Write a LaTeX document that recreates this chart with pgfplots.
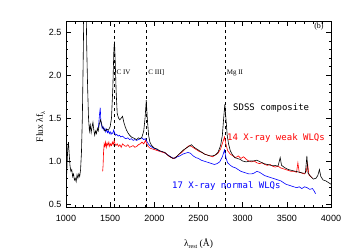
\documentclass[border=0pt]{standalone}
\usepackage{fontspec}
\setmainfont{Liberation Sans}
\newfontfamily\serifA{Liberation Serif}
\newfontfamily\monoA{DejaVu Sans Mono}
\usepackage{pgfplots}
\pgfplotsset{compat=1.18}
\begin{document}
\begin{tikzpicture}
\useasboundingbox (-66pt,-43pt) rectangle (284pt,207pt);
\begin{axis}[
  at={(0pt,0pt)}, anchor=south west,
  width=265pt, height=186pt, scale only axis,
  xmin=1000, xmax=4000, ymin=0.465, ymax=2.63,
  xtick={1000,1500,...,4000}, minor x tick num=4,
  ytick={0.5,1.0,...,2.5}, minor y tick num=4,
  tick align=inside, major tick length=5pt, minor tick length=2.5pt,
  axis line style={line width=0.5pt}, tick style={line width=0.4pt, black},
  /pgf/number format/assume math mode=true,
  /pgf/number format/set thousands separator={},
  ticklabel style={font=\fontsize{9}{10}\selectfont},
  xticklabel style={yshift=-5pt},
  yticklabel style={xshift=-1pt, /pgf/number format/fixed, /pgf/number format/fixed zerofill, /pgf/number format/precision=1},
  scaled ticks=false,
  xlabel={\serifA λ\raisebox{-0.5ex}{\fontsize{6}{6}\selectfont rest} (Å)},
  ylabel={\serifA Flux λf\raisebox{-0.5ex}{\fontsize{6}{6}\selectfont λ}},
  label style={font=\fontsize{9.5}{10}\selectfont},
  xlabel style={yshift=-10pt},
  ylabel style={yshift=-3pt, xshift=-13pt},
  clip=true,
]
\addplot[black, line width=0.5pt, dash pattern=on 3.5pt off 2.5pt] coordinates {(1549,0.465) (1549,2.63)};
\addplot[black, line width=0.5pt, dash pattern=on 3.5pt off 2.5pt] coordinates {(1909,0.465) (1909,2.63)};
\addplot[black, line width=0.5pt, dash pattern=on 3.5pt off 2.5pt] coordinates {(2798,0.465) (2798,2.63)};
% blue: 17 X-ray normal WLQs
\addplot[blue, line width=0.6pt] coordinates {
(1366,1.38) (1372,1.45) (1380,1.55) (1388,1.62) (1395,1.45) (1402,1.42) (1410,1.38) (1420,1.40)
(1430,1.36) (1440,1.38) (1450,1.34) (1460,1.37) (1470,1.33) (1480,1.35) (1490,1.32) (1500,1.34)
(1510,1.31) (1520,1.33) (1530,1.32) (1540,1.36) (1550,1.33) (1560,1.30) (1575,1.31) (1590,1.29)
(1605,1.30) (1620,1.28) (1640,1.29) (1660,1.27) (1680,1.26) (1700,1.27) (1720,1.25) (1740,1.26)
(1760,1.24) (1780,1.25) (1800,1.24) (1820,1.25) (1840,1.26) (1860,1.27) (1880,1.25) (1900,1.26)
(1920,1.22) (1940,1.19) (1960,1.17) (1990,1.15) (2020,1.14) (2050,1.12) (2080,1.11) (2110,1.10)
(2140,1.08) (2170,1.06) (2200,1.04) (2230,1.03) (2260,1.05) (2290,1.06) (2320,1.08) (2350,1.09)
(2380,1.10) (2410,1.09) (2440,1.06) (2470,1.04) (2500,1.03) (2530,1.01) (2560,1.00) (2590,0.99)
(2620,0.98) (2650,0.97) (2680,0.96) (2710,0.97) (2740,0.99) (2770,1.05) (2795,1.13) (2810,1.04)
(2830,0.98) (2860,0.95) (2890,0.93) (2920,0.92) (2950,0.90) (2980,0.88) (3010,0.87) (3040,0.86)
(3070,0.85) (3100,0.85) (3130,0.86) (3160,0.88) (3190,0.87) (3220,0.85) (3250,0.83) (3280,0.82)
(3310,0.81) (3340,0.80) (3370,0.79) (3400,0.78) (3430,0.77) (3460,0.75) (3490,0.73) (3520,0.72)
(3550,0.71) (3580,0.70) (3610,0.69) (3640,0.70) (3670,0.68) (3700,0.70) (3730,0.69) (3760,0.67)
(3790,0.68) (3810,0.65) (3825,0.62)
};
% red: 14 X-ray weak WLQs
\addplot[red, line width=0.6pt] coordinates {
(1415,0.88) (1420,0.95) (1425,1.10) (1432,1.20) (1440,1.17) (1448,1.22) (1456,1.16) (1465,1.21)
(1475,1.18) (1485,1.22) (1495,1.17) (1505,1.20) (1515,1.18) (1525,1.22) (1535,1.19) (1545,1.24)
(1555,1.20) (1565,1.18) (1580,1.20) (1595,1.17) (1610,1.19) (1625,1.16) (1640,1.20) (1660,1.18)
(1680,1.17) (1700,1.19) (1720,1.16) (1740,1.17) (1760,1.18) (1780,1.16) (1800,1.17) (1820,1.19)
(1840,1.20) (1860,1.22) (1880,1.20) (1900,1.24) (1915,1.20) (1930,1.17) (1950,1.15) (1980,1.14)
(2010,1.13) (2040,1.12) (2070,1.11) (2100,1.10) (2130,1.09) (2160,1.06) (2190,1.04) (2220,1.03)
(2250,1.05) (2280,1.08) (2310,1.10) (2340,1.13) (2370,1.16) (2395,1.18) (2420,1.17) (2450,1.15)
(2480,1.13) (2510,1.11) (2540,1.10) (2570,1.08) (2600,1.07) (2630,1.06) (2660,1.05) (2690,1.07)
(2720,1.09) (2750,1.14) (2775,1.22) (2795,1.28) (2810,1.20) (2830,1.12) (2860,1.08) (2890,1.06)
(2920,1.04) (2950,1.06) (2980,1.03) (3010,1.05) (3040,1.02) (3070,1.00) (3100,0.99) (3130,1.00)
(3160,0.98) (3190,0.97) (3220,0.98) (3250,0.96) (3280,0.95) (3310,0.96) (3340,0.94) (3370,0.93)
(3400,0.94) (3430,0.92) (3460,0.91) (3490,0.90) (3520,0.89) (3550,0.88) (3580,0.88) (3610,0.87)
(3625,0.98) (3640,0.87) (3670,0.86) (3700,0.85) (3720,0.88) (3735,0.97) (3750,0.84) (3770,0.82)
(3790,0.80)
};
% black: SDSS composite
\addplot[black, line width=0.6pt] coordinates {
(1000,0.67) (1010,0.90) (1020,1.15) (1028,1.22) (1035,1.10) (1045,0.95) (1055,0.88) (1065,0.90)
(1075,0.82) (1085,0.85) (1095,0.78) (1105,0.80) (1115,0.76) (1125,0.84) (1135,0.80) (1145,0.85)
(1155,0.82) (1165,0.90) (1175,1.10) (1185,1.50) (1195,2.20) (1205,3.00) (1216,3.60) (1225,3.00)
(1235,2.30) (1245,1.85) (1255,1.50) (1265,1.35) (1275,1.42) (1285,1.33) (1295,1.40) (1305,1.45)
(1315,1.36) (1325,1.30) (1335,1.35) (1345,1.32) (1355,1.38) (1365,1.35) (1375,1.42) (1390,1.48)
(1400,1.45) (1410,1.40) (1425,1.38) (1440,1.35) (1460,1.37) (1480,1.36) (1500,1.40) (1515,1.50)
(1530,1.85) (1542,2.30) (1549,2.39) (1556,2.20) (1568,1.80) (1580,1.55) (1595,1.50) (1610,1.48)
(1625,1.50) (1640,1.52) (1655,1.45) (1670,1.40) (1685,1.36) (1700,1.33) (1720,1.30) (1740,1.28)
(1760,1.27) (1780,1.26) (1800,1.25) (1820,1.27) (1840,1.26) (1860,1.28) (1880,1.35) (1895,1.50)
(1909,1.71) (1920,1.50) (1935,1.30) (1950,1.22) (1970,1.18) (2000,1.15) (2030,1.14) (2060,1.12)
(2090,1.11) (2120,1.10) (2150,1.07) (2180,1.05) (2210,1.03) (2240,1.04) (2270,1.07) (2300,1.10)
(2330,1.13) (2360,1.15) (2390,1.17) (2420,1.19) (2450,1.16) (2480,1.14) (2510,1.12) (2540,1.10)
(2570,1.08) (2600,1.07) (2630,1.06) (2660,1.06) (2690,1.07) (2720,1.10) (2750,1.18) (2770,1.30)
(2785,1.50) (2798,1.66) (2810,1.50) (2825,1.30) (2840,1.20) (2860,1.12) (2880,1.08) (2910,1.04)
(2940,1.03) (2970,1.02) (3000,1.00) (3040,0.99) (3080,1.00) (3120,1.00) (3160,1.01) (3200,0.99)
(3240,0.97) (3280,0.96) (3320,0.95) (3360,0.95) (3400,0.94) (3425,1.04) (3440,0.95) (3480,0.92)
(3520,0.90) (3560,0.89) (3600,0.88) (3640,0.87) (3680,0.86) (3710,0.86) (3727,1.06) (3740,0.86)
(3770,0.82) (3800,0.79) (3830,0.80) (3850,0.83) (3869,0.90) (3885,0.82) (3910,0.78) (3940,0.77)
(3970,0.75) (4000,0.73)
};
\node[anchor=west, inner sep=1pt, font=\serifA\fontsize{7}{7}\selectfont] at (axis cs:1560,2.03) {C IV};
\node[anchor=west, inner sep=1pt, font=\serifA\fontsize{7}{7}\selectfont] at (axis cs:1920,2.03) {C III]};
\node[anchor=west, inner sep=1pt, font=\serifA\fontsize{7}{7}\selectfont] at (axis cs:2808,2.03) {Mg II};
\node[anchor=north east, inner sep=1pt, font=\serifA\fontsize{8}{8}\selectfont] at (axis cs:3930,2.62) {(b)};
\node[anchor=west, inner sep=0pt, font=\monoA\fontsize{9}{9}\selectfont] at (axis cs:2891,1.616) {SDSS composite};
\node[anchor=west, inner sep=0pt, red, font=\monoA\fontsize{9}{9}\selectfont] at (axis cs:2823,1.267) {14 X-ray weak WLQs};
\node[anchor=west, inner sep=0pt, blue, font=\monoA\fontsize{9}{9}\selectfont] at (axis cs:2200,0.709) {17 X-ray normal WLQs};
\end{axis}
\end{tikzpicture}
\end{document}
